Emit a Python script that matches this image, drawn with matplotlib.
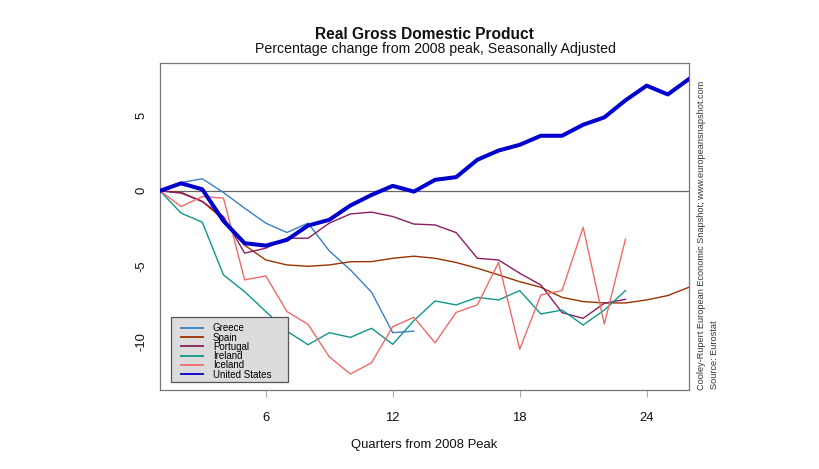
import matplotlib
matplotlib.use("Agg")
import matplotlib.pyplot as plt
from matplotlib.patches import Rectangle
import numpy as np

plt.rcParams['font.family'] = ['Liberation Sans', 'DejaVu Sans']

countries = ["Greece", "Spain", "Portugal", "Ireland", "Iceland", "United States"]
colors = ["#3b7fc4", "#993300", "#8b1c62", "#10968c", "#ee6a6a", "#0000cd"]

greece = [0, 0.55, 0.8, -0.11, -1.15, -2.14, -2.76, -2.14, -3.98, -5.24, -6.72, -9.4, -9.3]
spain = [0, -0.1, -0.7, -1.9, -3.6, -4.58, -4.91, -5.0, -4.91, -4.7, -4.69, -4.47, -4.33,
         -4.47, -4.75, -5.13, -5.57, -6.02, -6.39, -7.06, -7.34, -7.43, -7.43, -7.23, -6.94, -6.39]
portugal = [0, -0.15, -0.71, -1.7, -4.13, -3.8, -3.14, -3.14, -2.14, -1.53, -1.41, -1.7, -2.2,
            -2.26, -2.77, -4.47, -4.58, -5.46, -6.24, -8.07, -8.45, -7.45, -7.19]
ireland = [0, -1.48, -2.08, -5.57, -6.68, -8.0, -9.3, -10.2, -9.4, -9.71, -9.11, -10.17, -8.6,
           -7.3, -7.56, -7.06, -7.23, -6.61, -8.16, -7.9, -8.89, -7.9, -6.61]
iceland = [0, -1.04, -0.38, -0.48, -5.9, -5.64, -8.0, -8.85, -11.0, -12.14, -11.39, -9.0, -8.38,
           -10.07, -8.05, -7.56, -4.75, -10.5, -6.9, -6.61, -2.41, -8.83, -3.2]
united_states = [0, 0.5, 0.1, -2.0, -3.47, -3.63, -3.25, -2.3, -1.92, -0.97, -0.27, 0.33, -0.05,
                 0.73, 0.91, 2.06, 2.67, 3.05, 3.65, 3.65, 4.38, 4.87, 6.0, 6.97, 6.39, 7.41]

series = [greece, spain, portugal, ireland, iceland, united_states]
x_ticks = [6, 12, 18, 24]
y_ticks = [-10, -5, 0, 5]

fig = plt.figure(figsize=(8.2, 4.69), dpi=100)
ax = fig.add_axes([0.1951, 0.1684, 0.6451, 0.6972])

ax.axhline(0, color="#666666", lw=0.9, zorder=1)
for name, vals, c in zip(countries, series, colors):
    xs = np.arange(1, len(vals) + 1)
    lw = 2.9 if name == "United States" else 1.0
    ax.plot(xs, vals, color=c, lw=lw, label=name, zorder=3 if name == "United States" else 2)

ax.set_xlim(1, 26)
ax.set_ylim(-13.2, 8.47)
ax.set_xticks(x_ticks)
ax.set_yticks(y_ticks)
ax.set_yticklabels([str(v) for v in y_ticks], rotation=90, va="center")
ax.tick_params(axis="x", length=5, color="#aaaaaa", pad=10.5, labelsize=9.4, labelcolor="#111111")
ax.tick_params(axis="y", length=0, pad=9.2, labelsize=9.4, labelcolor="#111111")
for s in ax.spines.values():
    s.set_color("#777777")
    s.set_linewidth(0.9)

ax.set_xlabel("Quarters from 2008 Peak", fontsize=9.4, labelpad=11, color="#111111")

fig.text(0.518, 0.927, "Real Gross Domestic Product", ha="center", va="center",
         fontsize=11.2, fontweight="bold", color="#111111")
fig.text(0.5317, 0.895, "Percentage change from 2008 peak, Seasonally Adjusted", ha="center",
         va="center", fontsize=10.2, color="#111111")

fig.text(702 / 820, 1 - 390 / 469, "Cooley-Rupert European Economic Snapshot; www.europeansnapshot.com",
         rotation=90, ha="center", va="bottom", fontsize=6.6, color="#333333")
fig.text(715 / 820, 1 - 389 / 469, "Source: Eurostat",
         rotation=90, ha="center", va="bottom", fontsize=6.6, color="#333333")

# legend frame (R-style box)
frame = Rectangle((11 / 529, 8 / 327), 117 / 529, 65 / 327, transform=ax.transAxes,
                  facecolor="#dcdcdc", edgecolor="#555555", lw=0.9, zorder=6)
ax.add_patch(frame)
leg = ax.legend(loc="lower left", bbox_to_anchor=(21 / 529, 10.5 / 327), fontsize=7.05,
                frameon=False, handlelength=2.25, handletextpad=1.0,
                labelspacing=-0.08, borderpad=0, borderaxespad=0)
leg.set_zorder(7)
for line in leg.get_lines():
    line.set_linewidth(1.3)

fig.savefig("out.png", dpi=100, facecolor="white")
